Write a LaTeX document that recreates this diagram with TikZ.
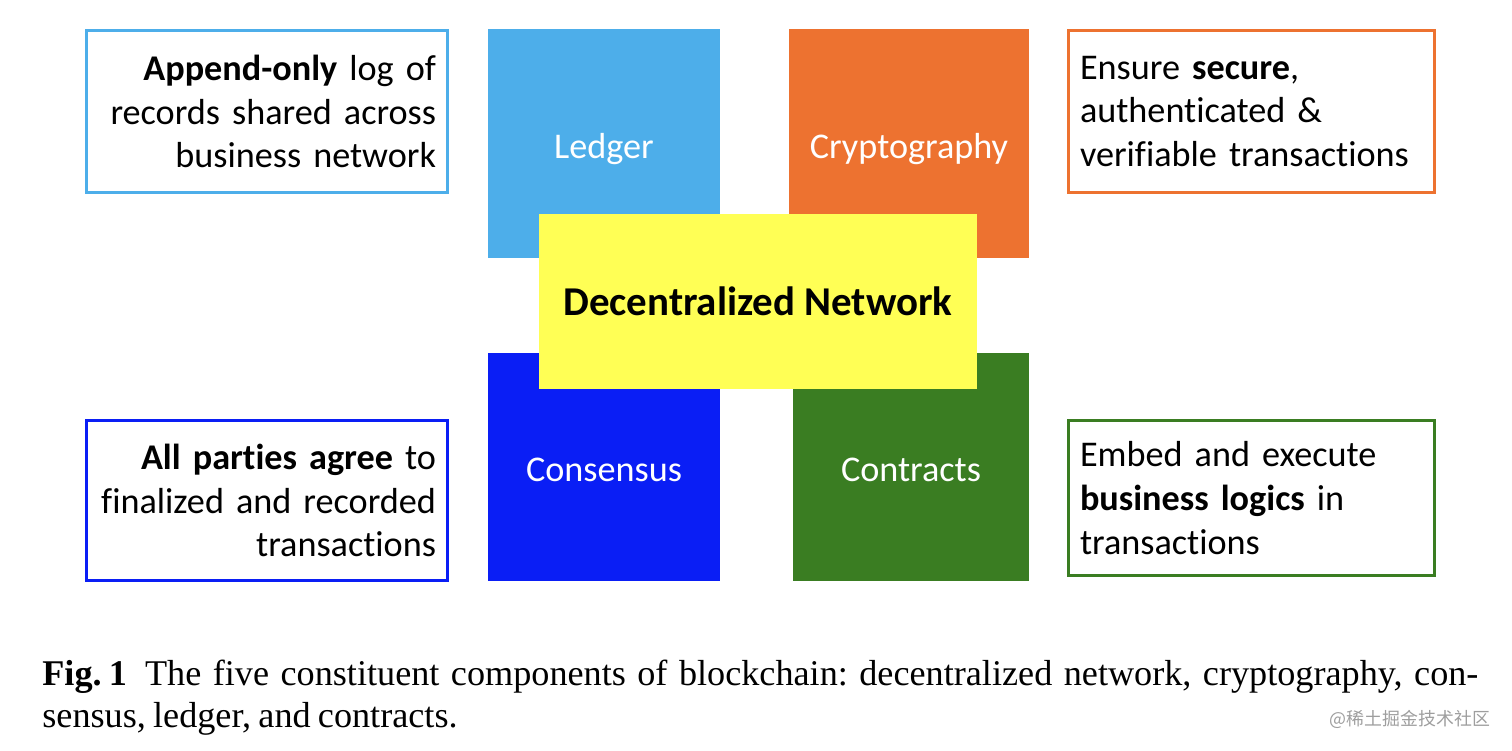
\documentclass[tikz,border=0pt]{standalone}
\usepackage{fontspec}
\setmainfont{Carlito}[Ligatures=NoCommon]
\newfontfamily\capfont{Liberation Serif}
\newfontfamily\cjkfont{Noto Sans CJK SC}
\usepackage{tikz}
\usetikzlibrary{positioning}
\definecolor{ledgerblue}{RGB}{77,174,234}
\definecolor{cryptoorange}{RGB}{237,114,48}
\definecolor{consensusblue}{RGB}{10,30,245}
\definecolor{contractgreen}{RGB}{58,125,34}
\definecolor{netyellow}{RGB}{255,255,85}
\newcommand\boxfont{\fontsize{20.6pt}{24.9pt}\selectfont}
\tikzset{
    block element/.style={
        inner sep=0pt,
        text height=16.5pt,text depth=0pt,
        text=white,
        font=\boxfont
    },
    core block/.style={
        fill=netyellow,
        inner sep=0pt,
        minimum width=8.76cm,minimum height=3.5cm,
        font=\fontsize{23.3pt}{28pt}\selectfont\bfseries
    },
    note box/.style={
        draw,line width=1.7pt,
        inner xsep=0.23cm,inner ysep=0pt,
        text width=6.76cm,
        minimum height=3.24cm,
        font=\boxfont
    },
}
\begin{document}
\begin{tikzpicture}
		\useasboundingbox (0,0) rectangle (30.24,-15);
		% the four components behind the network
		\foreach \name/\x/\y/\w/\h/\col/\txt in {ledger/12.08/-2.87/4.64/4.58/ledgerblue/Ledger,
			crypto/18.18/-2.87/4.8/4.58/cryptoorange/Cryptography,
			consensus/12.08/-9.34/4.64/4.56/consensusblue/Consensus,
			contracts/18.22/-9.34/4.72/4.56/contractgreen/Contracts}
		\node[block element,fill=\col,minimum width=\w cm,minimum height=\h cm] (\name) at (\x,\y) {\txt};
		\node[core block] (network) at (15.16,-6.03) {Decentralized Network};

		% notes
		\node[note box,draw=ledgerblue,align=right] (ledgernote) at (5.34,-2.23)
			{\textbf{Append-only} log of\\records shared across\\business network};
		\node[note box,draw=cryptoorange,text width=6.86cm,align=left] (cryptonote) at (25.03,-2.23)
			{Ensure \textbf{secure},\\authenticated \&\\verifiable transactions};
		\node[note box,draw=consensusblue,align=right,minimum height=3.2cm] (consensusnote) at (5.34,-10.01)
			{\textbf{All parties agree} to\\finalized and recorded\\transactions};
		\node[note box,draw=contractgreen,text width=6.86cm,align=left,minimum height=3.1cm] (contractnote) at (25.03,-9.96)
			{Embed and execute\\\textbf{business logics} in\\transactions};

		% caption
		\node[anchor=base west,inner sep=0pt,text width=28.72cm,align=left,
			font=\capfont\fontsize{20.6pt}{24.4pt}\selectfont] (caption) at (0.84,-13.7)
			{\frenchspacing\spaceskip=0.2em plus 0.3em minus 0.05em
			\hbox to \linewidth{\hbox{\textbf{Fig. 1}}\hspace{0.5em}The five constituent components of blockchain: decentralized network, cryptography, con-}\\
			sensus, ledger, and contracts.};
		\node[text=black!38,inner sep=0pt,font=\cjkfont\fontsize{10.2pt}{12pt}\selectfont] (mark) at (28.2,-14.38) {@稀土掘金技术社区};
	\end{tikzpicture}
\end{document}
